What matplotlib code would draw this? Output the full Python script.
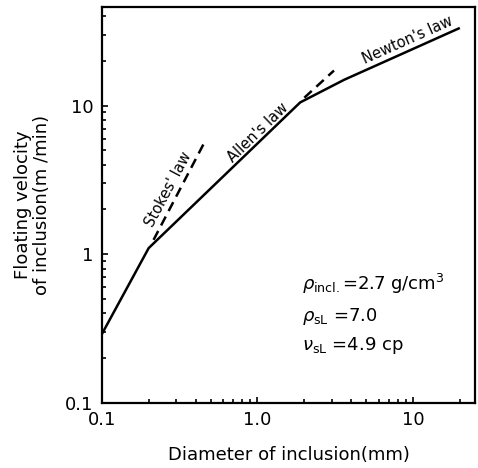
import matplotlib
matplotlib.use('Agg')
import matplotlib.pyplot as plt
from matplotlib.ticker import FixedLocator, LogLocator, NullFormatter

# floating velocity of inclusion vs diameter (log-log)
diam = [0.1, 0.2, 1.88, 3.6, 19.6]
vel = [0.29, 1.1, 10.5, 14.9, 33.0]
stokes_d = [0.215, 0.45]
stokes_v = [1.25, 5.5]
allen_d = [2.0, 3.1]
allen_v = [11.3, 17.2]
xticks = [0.1, 1.0, 10]
xticklabels = ['0.1', '1.0', '10']
yticks = [0.1, 1, 10]
yticklabels = ['0.1', '1', '10']

fig = plt.figure(figsize=(4.78, 4.68), dpi=100, facecolor='white')
ax = fig.add_axes([0.213, 0.139, 0.781, 0.846])
ax.set_xscale('log')
ax.set_yscale('log')
ax.set_xlim(0.1, 25)
ax.set_ylim(0.1, 46)

ax.plot(diam, vel, color='black', lw=1.8, solid_joinstyle='round')
ax.plot(stokes_d, stokes_v, color='black', lw=1.8, ls=(0, (4, 2.5)))
ax.plot(allen_d, allen_v, color='black', lw=1.8, ls=(0, (4, 2.5)))

ax.text(0.267, 2.73, "Stokes' law", rotation=62, rotation_mode='anchor',
        ha='center', va='center', fontsize=10.5)
ax.text(1.01, 6.6, "Allen's law", rotation=44, rotation_mode='anchor',
        ha='center', va='center', fontsize=10.5)
ax.text(9.16, 27.7, "Newton's law", rotation=24, rotation_mode='anchor',
        ha='center', va='center', fontsize=10.5)

# physical properties
ax.text(1.94, 0.63, r'$\rho_{\rm incl.}$=2.7 g/cm$^3$', fontsize=13, va='center')
ax.text(1.94, 0.384, r'$\rho_{\rm sL}$ =7.0', fontsize=13, va='center')
ax.text(1.94, 0.245, r'$\nu_{\rm sL}$ =4.9 cp', fontsize=13, va='center')

ax.xaxis.set_major_locator(FixedLocator(xticks))
ax.set_xticklabels(xticklabels)
ax.yaxis.set_major_locator(FixedLocator(yticks))
ax.set_yticklabels(yticklabels)
ax.xaxis.set_minor_locator(LogLocator(base=10, subs=range(2, 10)))
ax.yaxis.set_minor_locator(LogLocator(base=10, subs=range(2, 10)))
ax.xaxis.set_minor_formatter(NullFormatter())
ax.yaxis.set_minor_formatter(NullFormatter())
ax.tick_params(which='both', direction='in', top=False, right=False,
               labelsize=13, width=1.2)
ax.tick_params(which='major', length=4, pad=6)
ax.tick_params(which='minor', length=3)
for s in ax.spines.values():
    s.set_linewidth(1.6)

ax.set_xlabel('Diameter of inclusion(mm)', fontsize=13, labelpad=12)
ax.set_ylabel('Floating velocity\nof inclusion(m /min)', fontsize=13,
              labelpad=10, linespacing=1.1)

fig.savefig('out.png', dpi=100)
